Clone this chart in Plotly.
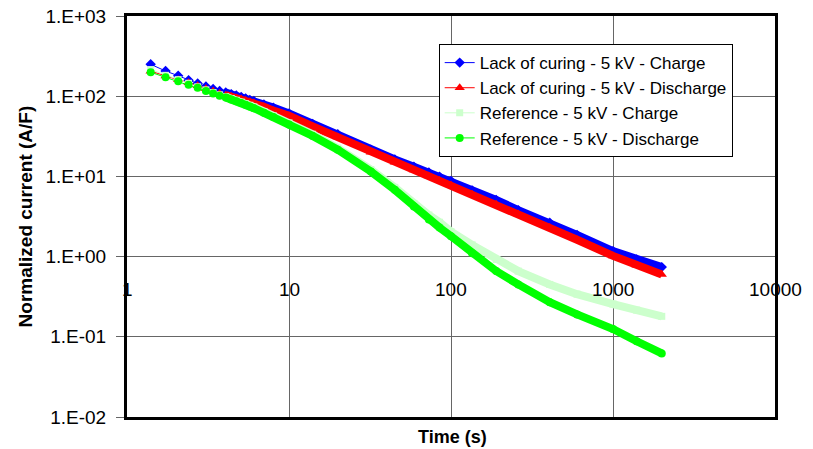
import math
import plotly.graph_objects as go

# ---------------- data ----------------
time_s = [1.4, 1.73, 2.07, 2.4, 2.73, 3.07, 3.4, 3.73, 4.07, 4.4, 4.73, 5.07, 5.4, 5.73, 6.07,
          7, 8, 10, 14, 20, 32, 45, 59, 73, 85, 100, 135, 190, 260, 407, 600, 1000, 1400, 2000]

lack_charge = [250, 206, 180, 158, 144, 132, 123, 116, 111, 106, 102, 98, 94, 90, 87,
               79, 72, 61, 45, 33.5, 21.5, 16.3, 13.2, 11.2, 9.9, 8.8, 6.7, 5.1, 3.8, 2.65, 1.86, 1.17, 0.92, 0.74]

lack_discharge = [205, 178, 160, 147, 135, 124, 115, 108, 103, 99, 95, 92, 88.5, 85, 82,
                  74, 66, 57, 42, 31, 20, 15, 12, 10.1, 8.9, 7.8, 6.0, 4.5, 3.4, 2.3, 1.62, 1.02, 0.78, 0.60]

ref_charge = [215, 182, 161, 145, 131, 120, 111, 104, 98.5, 93.5, 89, 84.5, 80.5, 77, 73.5,
              64.5, 57, 46.5, 33.5, 22.5, 12.2, 7.3, 4.6, 3.3, 2.68, 2.05, 1.4, 0.92, 0.66, 0.45, 0.34, 0.256, 0.215, 0.18]

ref_discharge = [199, 172, 154, 139, 127, 116, 108, 101, 96, 91, 86.5, 82, 78, 74.5, 71,
                 62, 55, 44.5, 32, 21.5, 11.5, 6.8, 4.2, 2.9, 2.3, 1.8, 1.1, 0.66, 0.45, 0.27, 0.19, 0.125, 0.088, 0.062]

series_names = ["Lack of curing - 5 kV - Charge", "Lack of curing - 5 kV - Discharge",
                "Reference - 5 kV - Charge", "Reference - 5 kV - Discharge"]
series_values = [lack_charge, lack_discharge, ref_charge, ref_discharge]

x_tick_values = [1, 10, 100, 1000, 10000]
x_tick_labels = ["1", "10", "100", "1000", "10000"]
y_tick_values = [1e3, 1e2, 1e1, 1e0, 1e-1, 1e-2]
y_tick_labels = ["1.E+03", "1.E+02", "1.E+01", "1.E+00", "1.E-01", "1.E-02"]

# ---------------- styles ----------------
colors = ["#0000FF", "#FF0000", "#CCFFCC", "#00FF00"]
symbols = ["diamond", "triangle-up", "square", "circle"]
msizes = [8, 9, 7, 8]
band_widths = [8, 8, 8, 8]
band_start = 4.0
FONT = "Liberation Sans, Arial, sans-serif"

fig = go.Figure()
for name, vals, col, sym, ms, bw in zip(series_names, series_values, colors, symbols, msizes, band_widths):
    fig.add_trace(go.Scatter(
        x=time_s, y=vals, name=name, mode="lines+markers",
        line=dict(color=col, width=1),
        marker=dict(color=col, symbol=sym, size=ms, line=dict(width=0)),
    ))
    bx = [t for t in time_s if t >= band_start]
    by = [v for t, v in zip(time_s, vals) if t >= band_start]
    fig.add_trace(go.Scatter(
        x=bx, y=by, mode="lines", showlegend=False, hoverinfo="skip",
        line=dict(color=col, width=bw),
    ))

annotations = []
for v, lab in zip(x_tick_values, x_tick_labels):
    annotations.append(dict(
        x=math.log10(v), y=0.318, xref="x", yref="paper", text=lab, showarrow=False,
        xanchor="center", yanchor="middle", font=dict(family=FONT, size=19, color="black")))
annotations.append(dict(
    x=-0.156, y=0.5, xref="paper", yref="paper", text="<b>Normalized current (A/F)</b>",
    textangle=-90, showarrow=False, xanchor="center", yanchor="middle",
    font=dict(family=FONT, size=19, color="black")))
annotations.append(dict(
    x=0.503, y=-0.05, xref="paper", yref="paper", text="<b>Time (s)</b>",
    showarrow=False, xanchor="center", yanchor="middle",
    font=dict(family=FONT, size=18, color="black")))

fig.update_layout(
    width=813, height=449,
    margin=dict(l=127, r=38, t=16, b=32, pad=0, autoexpand=False),
    paper_bgcolor="white", plot_bgcolor="white",
    font=dict(family=FONT, size=17, color="black"),
    showlegend=True,
    legend=dict(
        x=0.481, y=0.93, xanchor="left", yanchor="top",
        bgcolor="white", bordercolor="black", borderwidth=1,
        font=dict(family=FONT, size=17, color="black"),
        tracegroupgap=0, itemwidth=30,
    ),
    annotations=annotations,
    xaxis=dict(
        type="log", range=[0, 4], dtick=1, automargin=False,
        showgrid=True, gridcolor="#666666", gridwidth=1,
        showticklabels=False, ticks="",
        showline=True, linecolor="black", linewidth=3, mirror=True,
        zeroline=False,
    ),
    yaxis=dict(
        type="log", range=[-2, 3], automargin=False,
        tickvals=y_tick_values, ticktext=y_tick_labels,
        showgrid=True, gridcolor="#666666", gridwidth=1,
        ticks="outside", ticklen=8, tickcolor="#666666", tickwidth=1,
        ticklabelstandoff=6,
        tickfont=dict(family=FONT, size=19, color="black"),
        showline=True, linecolor="black", linewidth=3, mirror=True,
        zeroline=False,
    ),
)

fig.write_html("out.html")
